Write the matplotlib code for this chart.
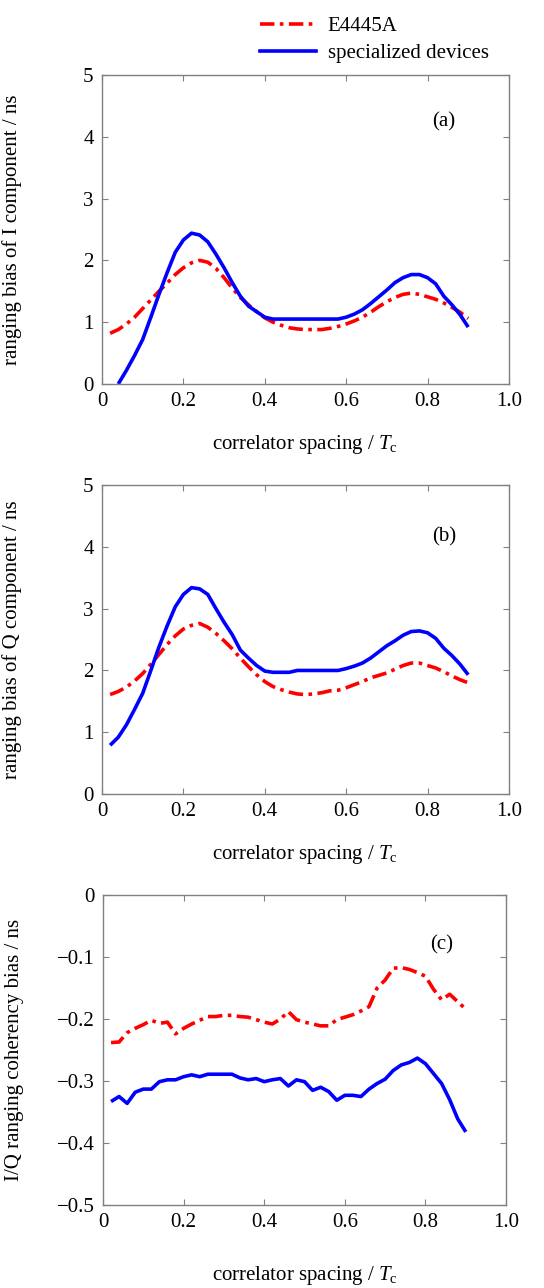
import matplotlib
matplotlib.use('Agg')
import numpy as np
import matplotlib.pyplot as plt
from matplotlib.lines import Line2D

plt.rcParams['font.family'] = ['Liberation Serif', 'DejaVu Serif']
plt.rcParams['mathtext.fontset'] = 'custom'
plt.rcParams['mathtext.rm'] = 'Liberation Serif'
plt.rcParams['mathtext.it'] = 'Liberation Serif:italic'
plt.rcParams['font.size'] = 15

# correlator spacing grid (Tc)
spacing = [0.02, 0.04, 0.06, 0.08, 0.10, 0.12, 0.14, 0.16, 0.18, 0.20,
           0.22, 0.24, 0.26, 0.28, 0.30, 0.32, 0.34, 0.36, 0.38, 0.40,
           0.42, 0.44, 0.46, 0.48, 0.50, 0.52, 0.54, 0.56, 0.58, 0.60,
           0.62, 0.64, 0.66, 0.68, 0.70, 0.72, 0.74, 0.76, 0.78, 0.80,
           0.82, 0.84, 0.86, 0.88, 0.90]

# (a) I component
i_e4445a = [0.82, 0.88, 0.97, 1.08, 1.22, 1.36, 1.50, 1.63, 1.77, 1.88,
            1.96, 2.00, 1.97, 1.87, 1.72, 1.55, 1.40, 1.28, 1.17, 1.07,
            1.00, 0.95, 0.91, 0.89, 0.88, 0.88, 0.88, 0.90, 0.93, 0.97,
            1.02, 1.08, 1.16, 1.25, 1.33, 1.40, 1.45, 1.47, 1.45, 1.41,
            1.37, 1.31, 1.24, 1.16, 1.06]
i_special = [None, 0.0, 0.22, 0.46, 0.72, 1.08, 1.45, 1.80, 2.13, 2.33,
             2.44, 2.41, 2.30, 2.10, 1.88, 1.64, 1.42, 1.26, 1.17, 1.08,
             1.05, 1.05, 1.05, 1.05, 1.05, 1.05, 1.05, 1.05, 1.05, 1.08,
             1.13, 1.20, 1.30, 1.41, 1.52, 1.64, 1.72, 1.77, 1.77, 1.72,
             1.62, 1.42, 1.28, 1.12, 0.92]

# (b) Q component
q_e4445a = [1.61, 1.66, 1.73, 1.83, 1.95, 2.10, 2.26, 2.42, 2.56, 2.67,
            2.73, 2.76, 2.70, 2.60, 2.48, 2.35, 2.20, 2.06, 1.93, 1.82,
            1.74, 1.69, 1.65, 1.62, 1.61, 1.62, 1.64, 1.67, 1.68, 1.72,
            1.77, 1.82, 1.88, 1.92, 1.96, 2.02, 2.08, 2.12, 2.12, 2.08,
            2.04, 1.98, 1.91, 1.85, 1.80]
q_special = [0.79, 0.92, 1.12, 1.37, 1.63, 2.00, 2.38, 2.72, 3.03, 3.23,
             3.34, 3.32, 3.23, 3.00, 2.78, 2.58, 2.33, 2.20, 2.08, 1.99,
             1.97, 1.97, 1.97, 2.00, 2.00, 2.00, 2.00, 2.00, 2.00, 2.03,
             2.07, 2.12, 2.20, 2.30, 2.40, 2.48, 2.57, 2.63, 2.64, 2.61,
             2.52, 2.36, 2.24, 2.10, 1.93]

# (c) I/Q coherency bias
c_e4445a = [-0.238, -0.237, -0.222, -0.215, -0.209, -0.202, -0.207, -0.205, -0.224, -0.215,
            -0.208, -0.202, -0.196, -0.196, -0.194, -0.194, -0.196, -0.197, -0.201, -0.205,
            -0.208, -0.200, -0.188, -0.201, -0.205, -0.208, -0.211, -0.211, -0.201, -0.197,
            -0.193, -0.187, -0.180, -0.150, -0.137, -0.118, -0.117, -0.120, -0.125, -0.131,
            -0.152, -0.169, -0.160, -0.172, -0.184]
c_special = [-0.333, -0.325, -0.336, -0.318, -0.313, -0.313, -0.301, -0.298, -0.298, -0.293,
             -0.290, -0.293, -0.289, -0.289, -0.289, -0.289, -0.295, -0.298, -0.296, -0.301,
             -0.298, -0.296, -0.308, -0.298, -0.301, -0.315, -0.310, -0.317, -0.331, -0.323,
             -0.323, -0.325, -0.313, -0.304, -0.297, -0.283, -0.274, -0.270, -0.263, -0.272,
             -0.288, -0.304, -0.330, -0.361, -0.382]

x_ticks = [0, 0.2, 0.4, 0.6, 0.8, 1.0]
x_ticklabels = ['0', '0.2', '0.4', '0.6', '0.8', '1.0']
xlabel = r'correlator spacing / $\mathit{T}_{\mathrm{c}}$'

red = '#ff0000'
blue = '#0000ff'
spine_gray = '#808080'
dashdot = (0, (4, 1.5, 1, 1.5))

fig = plt.figure(figsize=(5.44, 12.88), dpi=100)

panels = [
    # rect, red, blue, ylim, yticks, yticklabels, ylabel, tag, tag_y, xlab_y
    ([0.1875, 0.7019, 0.748, 0.2399], i_e4445a, i_special, (0, 5),
     [0, 1, 2, 3, 4, 5], ['0', '1', '2', '3', '4', '5'],
     'ranging bias of I component / ns', '(a)', 4.24, -0.197),
    ([0.1875, 0.3835, 0.748, 0.2399], q_e4445a, q_special, (0, 5),
     [0, 1, 2, 3, 4, 5], ['0', '1', '2', '3', '4', '5'],
     'ranging bias of Q component / ns', '(b)', 4.16, -0.197),
    ([0.1893, 0.0644, 0.741, 0.2407], c_e4445a, c_special, (-0.5, 0),
     [-0.5, -0.4, -0.3, -0.2, -0.1, 0],
     ['\u22120.5', '\u22120.4', '\u22120.3', '\u22120.2', '\u22120.1', '0'],
     'I/Q ranging coherency bias / ns', '(c)', -0.081, -0.226),
]

x = np.array(spacing)
for rect, r_vals, b_vals, ylim, yt, ytl, ylab, tag, tag_y, xlab_y in panels:
    ax = fig.add_axes(rect)
    r = np.array(r_vals, dtype=float)
    b = np.array([np.nan if v is None else v for v in b_vals], dtype=float)
    ax.plot(x, r, color=red, lw=2.6, linestyle=dashdot)
    ax.plot(x, b, color=blue, lw=2.6, solid_capstyle='butt')
    ax.set_xlim(0, 1.0)
    ax.set_ylim(*ylim)
    ax.set_xticks(x_ticks)
    ax.set_xticklabels(x_ticklabels)
    ax.set_yticks(yt)
    ax.set_yticklabels(ytl)
    ax.tick_params(direction='in', top=True, right=True, length=4,
                   width=0.8, color=spine_gray, labelsize=15, pad=6)
    for sp in ax.spines.values():
        sp.set_color(spine_gray)
        sp.set_linewidth(1.0)
    ax.set_ylabel(ylab, fontsize=15)
    ax.yaxis.set_label_coords(-0.197, 0.5)
    ax.set_xlabel(xlabel, fontsize=15)
    ax.xaxis.set_label_coords(0.5, xlab_y)
    ax.xaxis.label.set_va('center')
    ax.text(0.84, tag_y, tag, fontsize=15, ha='center', va='center')

handles = [Line2D([], [], color=red, lw=2.6, linestyle=dashdot),
           Line2D([], [], color=blue, lw=2.6)]
fig.legend(handles, ['E4445A', 'specialized devices'], loc='upper left',
           bbox_to_anchor=(0.455, 0.997), frameon=False, fontsize=15,
           handlelength=2.7, handletextpad=0.55, labelspacing=0.35,
           borderaxespad=0.2)

fig.savefig('out.png', dpi=100)
